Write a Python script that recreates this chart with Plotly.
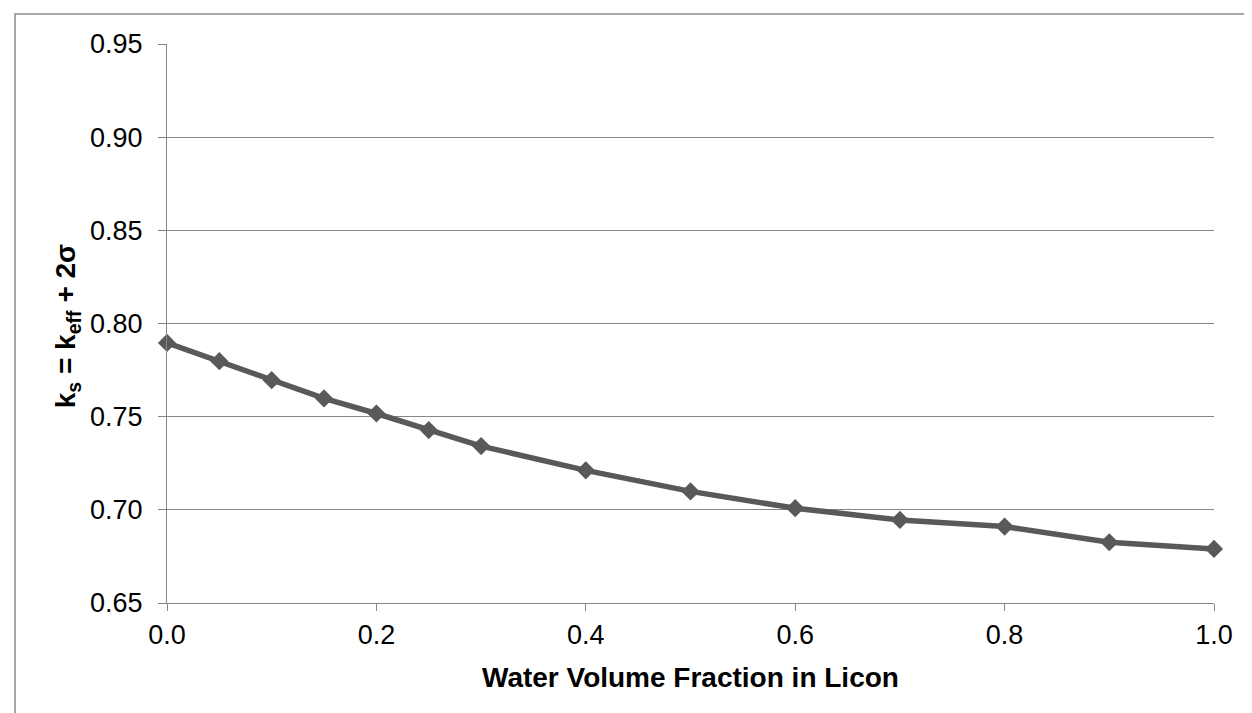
import plotly.graph_objects as go

# Data
water_fraction = [0.0, 0.05, 0.10, 0.15, 0.20, 0.25, 0.30, 0.40, 0.50, 0.60, 0.70, 0.80, 0.90, 1.00]
ks_values = [0.7896, 0.7798, 0.7696, 0.7598, 0.7517, 0.7428, 0.7342, 0.7212, 0.7099, 0.7009, 0.6946, 0.6910, 0.6826, 0.6790]
x_ticks = [0.0, 0.2, 0.4, 0.6, 0.8, 1.0]
x_tick_labels = ["0.0", "0.2", "0.4", "0.6", "0.8", "1.0"]
y_ticks = [0.65, 0.70, 0.75, 0.80, 0.85, 0.90, 0.95]
y_tick_labels = ["0.65", "0.70", "0.75", "0.80", "0.85", "0.90", "0.95"]

x_title = "<b>Water Volume Fraction in Licon</b>"
y_title = "<b>k<sub>s</sub> = k<sub>eff</sub> + 2σ</b>"

FONT = "Liberation Sans, Arial, sans-serif"
GRID = "#868686"
LINE = "#595959"

W, H = 1252, 713
L, R, T, B = 159, 46, 36, 118
pw = W - L - R
ph = H - T - B

fig = go.Figure()
fig.add_trace(go.Scatter(
    x=water_fraction, y=ks_values, mode="lines+markers",
    line=dict(color=LINE, width=5.5),
    marker=dict(symbol="diamond", size=14, color=LINE),
    showlegend=False, cliponaxis=False,
))

fig.update_layout(
    width=W, height=H,
    margin=dict(l=L, r=R, t=T, b=B, autoexpand=False),
    paper_bgcolor="white", plot_bgcolor="white",
    font=dict(family=FONT, size=27, color="black"),
    xaxis=dict(
        range=[0, 1], tickvals=x_ticks, ticktext=x_tick_labels,
        showgrid=False, zeroline=False,
        showline=True, linecolor=GRID, linewidth=1.3,
        ticks="outside", ticklen=7, tickcolor=GRID, tickwidth=1.3,
        tickfont=dict(family=FONT, size=27, color="black"),
        fixedrange=True,
    ),
    yaxis=dict(
        range=[0.65, 0.95], tickvals=y_ticks, ticktext=y_tick_labels,
        showgrid=True, gridcolor=GRID, gridwidth=1.3, zeroline=False,
        showline=True, linecolor=GRID, linewidth=1.3,
        ticks="outside", ticklen=8, tickcolor=GRID, tickwidth=1.3,
        tickfont=dict(family=FONT, size=27, color="black"),
        ticklabelstandoff=10,
        fixedrange=True,
    ),
    annotations=[
        dict(text=x_title, xref="paper", yref="paper",
             x=0.5, y=(595 - 669) / ph, xanchor="center", yanchor="middle",
             showarrow=False, font=dict(family=FONT, size=28, color="black")),
        dict(text=y_title, xref="paper", yref="paper", textangle=-90,
             x=(59 - L) / pw, y=0.495, xanchor="center", yanchor="middle",
             showarrow=False, font=dict(family=FONT, size=28, color="black")),
    ],
    shapes=[
        dict(type="rect", xref="paper", yref="paper",
             x0=(7 - L) / pw, x1=(W + 20 - L) / pw,
             y0=-(H + 20 - (H - B)) / ph, y1=(H - B - 6) / ph,
             line=dict(color="#8c8c8c", width=1.5), layer="below"),
    ],
)

fig.write_html("out.html")
